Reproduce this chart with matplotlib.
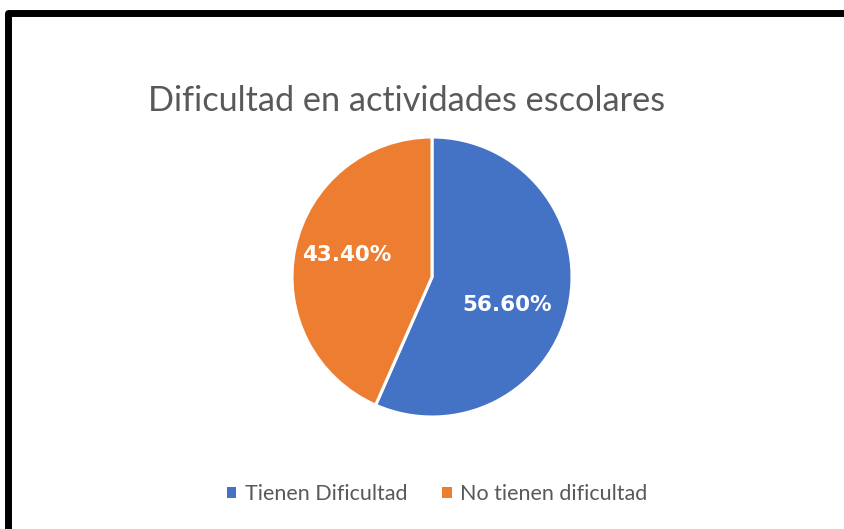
import matplotlib.pyplot as plt
from matplotlib.lines import Line2D
from matplotlib.patches import Patch

labels = ["Tienen Dificultad", "No tienen dificultad"]
values = [56.60, 43.40]
colors = ["#4472C4", "#ED7D31"]

plt.rcParams["font.family"] = ["Lato", "DejaVu Sans"]

W, H = 844, 529
fig = plt.figure(figsize=(W / 100, H / 100), dpi=100)
fig.patch.set_facecolor("white")

# pie axes: centre ~(432, 277) px, radius ~140 px
cx, cy, r = 432, 277, 140
ax = fig.add_axes([(cx - r) / W, (H - cy - r) / H, 2 * r / W, 2 * r / H])
wedges, texts, autotexts = ax.pie(
    values, colors=colors, startangle=90, counterclock=False,
    autopct="%.2f%%", pctdistance=0.6,
    wedgeprops=dict(edgecolor="white", linewidth=2.2),
    textprops=dict(color="white", fontsize=15.5, fontweight="bold",
                   family=["DejaVu Sans"]),
)
# nudge the labels a little the way Excel places them
autotexts[0].set_position((0.54, -0.20))
autotexts[1].set_position((-0.61, 0.16))
ax.set_xlim(-1, 1)
ax.set_ylim(-1, 1)
ax.set_aspect("equal")

fig.text(407 / W, 1 - 101 / H, "Dificultad en actividades escolares",
         ha="center", va="center", fontsize=24.7, color="#595959")

handles = [Patch(facecolor=c, edgecolor="none") for c in colors]
fig.legend(handles, labels, loc="center", bbox_to_anchor=(437 / W, 1 - 494 / H),
           ncol=2, frameon=False, fontsize=15.5, handlelength=0.45, handleheight=0.45,
           handletextpad=0.4, columnspacing=1.6, labelcolor="#595959")

# black frame along the top and left edges
fig.add_artist(Line2D([8 / W, 8 / W, 1.02], [-0.02, 1 - 13 / H, 1 - 13 / H],
                      transform=fig.transFigure, color="black", linewidth=5,
                      solid_joinstyle="round"))

fig.savefig("out.png", dpi=100)
